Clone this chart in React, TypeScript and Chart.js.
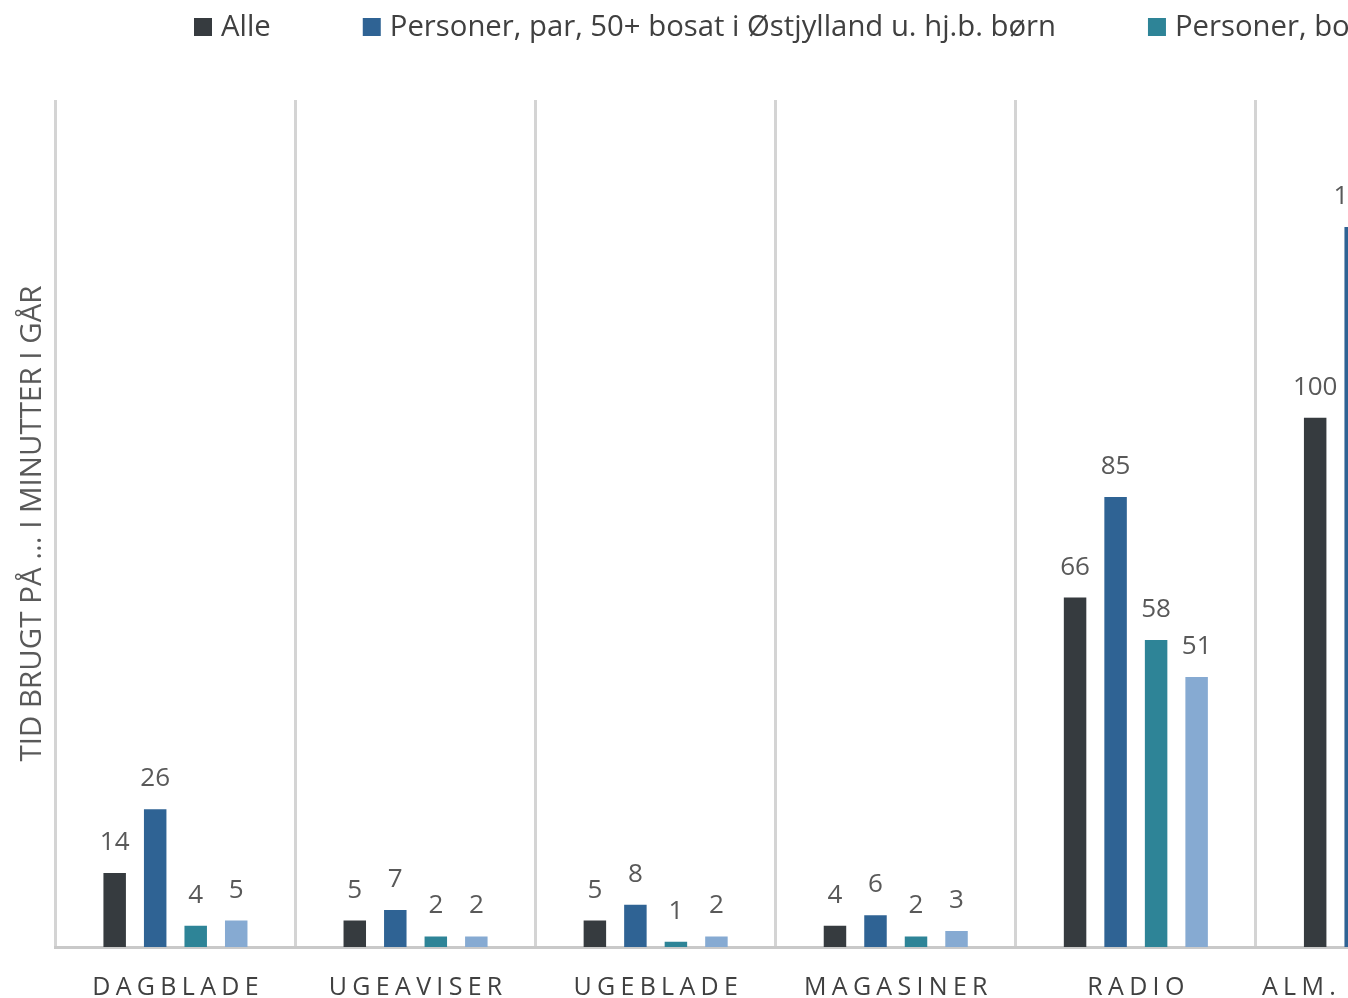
import React, { useEffect, useRef } from "react";
import { Chart, registerables, CategoryScale } from "chart.js";

Chart.register(...registerables);

// Media categories along the x axis
const categories = ["DAGBLADE", "UGEAVISER", "UGEBLADE", "MAGASINER", "RADIO", "ALM. FLOW-TV"];

// Series names
const seriesNames = [
  "Alle",
  "Personer, par, 50+ bosat i Østjylland u. hj.b. børn",
  "Personer, bosat i Østjylland",
  "Personer, 50+ bosat i Østjylland",
];

// Minutes spent yesterday, per series
const alle = [14, 5, 5, 4, 66, 100];
const par50 = [26, 7, 8, 6, 85, 136];
const bosat = [4, 2, 1, 2, 58, 92];
const bosat50 = [5, 2, 2, 3, 51, 118];

const seriesValues = [alle, par50, bosat, bosat50];
const seriesColors = ["#363b3f", "#2f6394", "#2e8497", "#86aad2"];

const yTitle = "TID BRUGT PÅ ... I MINUTTER I GÅR";
const yMax = 160;

const FONT = '"Open Sans", "Noto Sans", sans-serif';
const CANVAS_W = 1500;
const CANVAS_H = 1029;

// Category axis whose tick labels are drawn letter-spaced
const LETTER_SPACING = 5.3;
class SpacedCategoryScale extends CategoryScale {
  static id = "spacedCategory";
  static defaults = CategoryScale.defaults;
  drawLabels(area: any) {
    const ctx: any = this.ctx;
    ctx.save();
    ctx.letterSpacing = LETTER_SPACING + "px";
    ctx.translate(LETTER_SPACING / 2, 0);
    super.drawLabels(area);
    ctx.restore();
  }
}
Chart.register(SpacedCategoryScale as any);

// Value labels above each bar
const valueLabels = {
  id: "valueLabels",
  afterDatasetsDraw(chart: any) {
    const ctx = chart.ctx;
    ctx.save();
    ctx.font = `26px ${FONT}`;
    ctx.fillStyle = "#595959";
    ctx.textAlign = "center";
    ctx.textBaseline = "alphabetic";
    chart.data.datasets.forEach((ds: any, i: number) => {
      const meta = chart.getDatasetMeta(i);
      meta.data.forEach((bar: any, j: number) => {
        const v = ds.data[j];
        if (v == null) return;
        ctx.fillText(String(v), bar.x, bar.y - 23);
      });
    });
    ctx.restore();
  },
};

// Single-row legend with wide gaps between entries
const legendRow = {
  id: "legendRow",
  afterDraw(chart: any) {
    const ctx = chart.ctx;
    ctx.save();
    ctx.font = `29.3px ${FONT}`;
    ctx.textBaseline = "middle";
    ctx.textAlign = "left";
    const box = 18;
    const gap = 9;
    const itemGap = 92;
    const y = 27;
    let x = 194;
    chart.data.datasets.forEach((ds: any) => {
      ctx.fillStyle = ds.backgroundColor;
      ctx.fillRect(x, y - box / 2, box, box);
      ctx.fillStyle = "#404040";
      ctx.fillText(ds.label, x + box + gap, y + 1);
      x += box + gap + ctx.measureText(ds.label).width + itemGap;
    });
    ctx.restore();
  },
};

export default function App() {
  const canvasRef = useRef<HTMLCanvasElement | null>(null);

  useEffect(() => {
    const canvas = canvasRef.current;
    if (!canvas) return;
    const chart = new Chart(canvas, {
      type: "bar",
      data: {
        labels: categories,
        datasets: seriesNames.map((name, i) => ({
          label: name,
          data: seriesValues[i],
          backgroundColor: seriesColors[i],
          borderWidth: 0,
          categoryPercentage: 0.675,
          barPercentage: 0.555,
        })),
      },
      options: {
        responsive: false,
        animation: false,
        layout: { padding: { top: 100, right: 4, left: 0, bottom: 0 } },
        plugins: {
          legend: { display: false },
          tooltip: { enabled: false },
        },
        scales: {
          x: {
            type: "spacedCategory" as any,
            offset: true,
            grid: {
              display: true,
              offset: true,
              color: "#d4d4d4",
              lineWidth: 3,
              drawTicks: false,
            },
            border: { display: true, color: "#c9c9c9", width: 3 },
            ticks: {
              color: "#404040",
              font: { family: FONT, size: 25 },
              padding: 26,
              maxRotation: 0,
              autoSkip: false,
            },
          },
          y: {
            min: 0,
            max: yMax,
            ticks: { display: false },
            grid: { display: false, drawTicks: false },
            border: { display: false },
            title: {
              display: true,
              text: yTitle,
              color: "#595959",
              font: { family: FONT, size: 29.5 },
              padding: { top: 15, bottom: 5 },
            },
          },
        },
      } as any,
      plugins: [valueLabels, legendRow],
    });
    return () => chart.destroy();
  }, []);

  return (
    <div
      style={{
        position: "fixed",
        left: 0,
        top: 0,
        width: "100vw",
        height: "100vh",
        overflow: "hidden",
        background: "#ffffff",
      }}
    >
      <canvas
        ref={canvasRef}
        width={CANVAS_W}
        height={CANVAS_H}
        style={{ display: "block" }}
      />
    </div>
  );
}
